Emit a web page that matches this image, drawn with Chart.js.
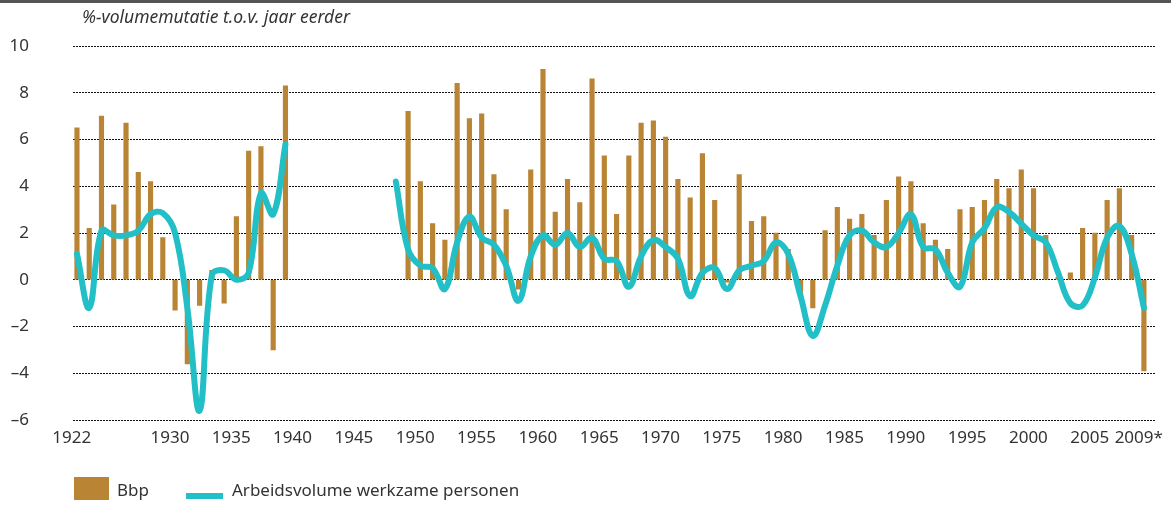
<!DOCTYPE html>
<html>
<head>
<meta charset="utf-8">
<script src="https://cdn.jsdelivr.net/npm/chart.js"></script>
<style>
  html, body { margin:0; padding:0; background:#fff; }
  body { width:1171px; height:505px; position:relative; overflow:hidden; font-family:'Noto Sans', sans-serif; color:#333; }
  #topline { position:absolute; left:0; top:0; width:1171px; height:3px; background:#555; }
  #ytitle { position:absolute; left:82px; top:5px; font-style:italic; font-size:17.5px; line-height:22px; color:#333; white-space:nowrap; }
  #c { position:absolute; left:0; top:0; }
  .sw { position:absolute; }
  .lt { position:absolute; font-size:17px; line-height:23px; color:#333; white-space:nowrap; }
</style>
</head>
<body>
<div id="topline"></div>
<canvas id="c" width="1171" height="505"></canvas>
<div id="ytitle">%-volumemutatie t.o.v. jaar eerder</div>
<div class="sw" style="left:74px;top:477px;width:35px;height:23px;background:#B98534"></div>
<div class="lt" style="left:117px;top:478px">Bbp</div>
<div class="sw" style="left:186px;top:493px;width:37px;height:6px;background:#22BFC7"></div>
<div class="lt" style="left:232px;top:478px">Arbeidsvolume werkzame personen</div>
<script>
// Years 1922 .. 2009
const years = [];
for (let y = 1922; y <= 2009; y++) years.push(y);

// Bbp (GDP) volume change, % (null = no data)
const bbp = [
  6.5, 2.2, 7.0, 3.2, 6.7, 4.6, 4.2, 1.8, -1.3, -3.6,   // 1922-1931
  -1.1, 0.4, -1.0, 2.7, 5.5, 5.7, -3.0, 8.3,            // 1932-1939
  null, null, null, null, null, null, null, null, null, // 1940-1948
  7.2, 4.2, 2.4, 1.7, 8.4, 6.9, 7.1, 4.5, 3.0, -0.4,    // 1949-1958
  4.7, 9.0, 2.9, 4.3, 3.3, 8.6, 5.3, 2.8, 5.3, 6.7,     // 1959-1968
  6.8, 6.1, 4.3, 3.5, 5.4, 3.4, -0.1, 4.5, 2.5, 2.7,    // 1969-1978
  2.0, 1.3, -0.8, -1.2, 2.1, 3.1, 2.6, 2.8, 1.9, 3.4,   // 1979-1988
  4.4, 4.2, 2.4, 1.7, 1.3, 3.0, 3.1, 3.4, 4.3, 3.9,     // 1989-1998
  4.7, 3.9, 1.9, 0.1, 0.3, 2.2, 2.0, 3.4, 3.9, 1.9,     // 1999-2008
  -3.9                                                  // 2009
];

// Arbeidsvolume werkzame personen, % (null = no data)
const arbeid = [
  1.1, -1.2, 2.1, 1.9, 1.9, 2.1, 2.8, 2.85, 2.0, -1.2,  // 1922-1931
  -5.6, 0.2, 0.4, 0.0, 0.3, 3.7, 2.8, 5.8,              // 1932-1939
  null, null, null, null, null, null, null, null,       // 1940-1947
  4.2, 1.3, 0.6, 0.5, -0.4, 1.6, 2.7, 1.8, 1.5, 0.6,    // 1948-1957
  -0.9, 1.0, 1.9, 1.5, 2.0, 1.4, 1.8, 0.9, 0.8, -0.3,   // 1958-1967
  1.0, 1.7, 1.4, 0.9, -0.7, 0.3, 0.5, -0.4, 0.4, 0.6,   // 1968-1977
  0.8, 1.6, 1.1, -0.7, -2.4, -1.1, 0.6, 1.9, 2.1, 1.6,  // 1978-1987
  1.4, 2.0, 2.8, 1.4, 1.3, 0.3, -0.3, 1.6, 2.2, 3.1,    // 1988-1997
  2.9, 2.4, 1.9, 1.6, 0.3, -1.0, -1.1, 0.1, 1.8, 2.3,   // 1998-2007
  1.1, -1.2                                             // 2008-2009
];

// X tick labels
const tickYears  = [1922, 1930, 1935, 1940, 1945, 1950, 1955, 1960, 1965, 1970, 1975, 1980, 1985, 1990, 1995, 2000, 2005, 2009];
const tickLabels = ['1922','1930','1935','1940','1945','1950','1955','1960','1965','1970','1975','1980','1985','1990','1995','2000','2005','2009*'];

// Y tick values
const yTicks = [-6, -4, -2, 0, 2, 4, 6, 8, 10];

const BAR_COLOR = '#B98534';
const LINE_COLOR = '#22BFC7';
const FONT = "'Noto Sans', sans-serif";

new Chart(document.getElementById('c'), {
  type: 'bar',
  data: {
    datasets: [
      {
        type: 'line',
        label: 'Arbeidsvolume werkzame personen',
        data: years.map((yr, i) => ({ x: yr, y: arbeid[i] })),
        borderColor: LINE_COLOR,
        borderWidth: 6,
        pointRadius: 0,
        tension: 0.4,
        spanGaps: false,
        fill: false,
        borderCapStyle: 'round',
        borderJoinStyle: 'round',
        order: 0
      },
      {
        type: 'bar',
        label: 'Bbp',
        data: years.map((yr, i) => ({ x: yr, y: bbp[i] })),
        backgroundColor: BAR_COLOR,
        barThickness: 4.5,
        order: 1
      }
    ]
  },
  options: {
    responsive: false,
    animation: false,
    events: [],
    layout: { padding: { left: 0, right: 6, top: 46, bottom: 45 } },
    plugins: { legend: { display: false }, tooltip: { enabled: false }, title: { display: false } },
    scales: {
      x: {
        type: 'linear',
        offset: false,
        min: 1921.677,
        max: 2009.97,
        grid: { display: false, drawTicks: false },
        border: { display: false },
        afterBuildTicks: (scale) => { scale.ticks = tickYears.map(v => ({ value: v - 0.42 })); },
        afterFit: (scale) => { scale.height = 40; },
        ticks: {
          autoSkip: false, maxRotation: 0, minRotation: 0, padding: 8,
          color: '#333', font: { family: FONT, size: 17 },
          callback: (v, i) => tickLabels[i]
        }
      },
      y: {
        type: 'linear',
        min: -6,
        max: 10,
        afterBuildTicks: (scale) => { scale.ticks = yTicks.map(v => ({ value: v })); },
        afterFit: (scale) => { scale.width = 73; },
        grid: { color: '#111', lineWidth: 1, drawTicks: true, tickLength: 40, tickColor: 'rgba(0,0,0,0)', borderDash: [2, 1] },
        border: { display: false, dash: [2, 1] },
        ticks: {
          padding: 4, color: '#333', font: { family: FONT, size: 17 },
          callback: (v) => (v < 0 ? '\u2013' + Math.abs(v) : String(v))
        }
      }
    }
  }
});
</script>
</body>
</html>
